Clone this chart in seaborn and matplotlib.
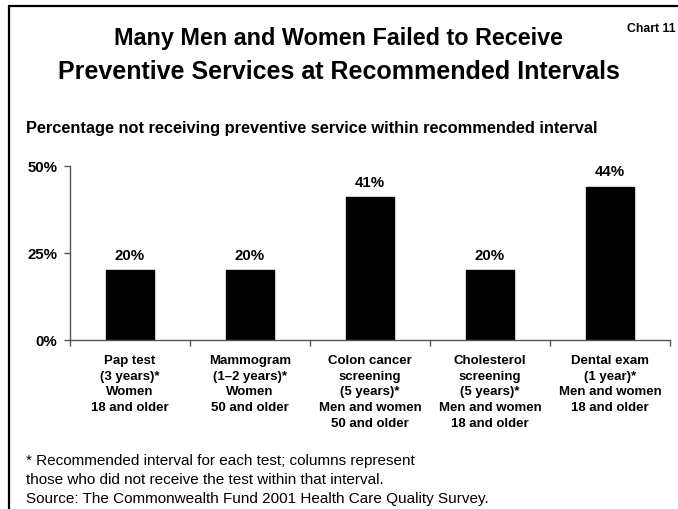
import matplotlib
matplotlib.use("Agg")
import matplotlib.pyplot as plt
from matplotlib import font_manager
from matplotlib.lines import Line2D
import seaborn as sns
import pandas as pd

# Data
categories = ["Pap test", "Mammogram", "Colon cancer screening",
              "Cholesterol screening", "Dental exam"]
pct_not_received = [20, 20, 41, 20, 44]
category_labels = [
    "Pap test\n(3 years)*\nWomen\n18 and older",
    "Mammogram\n(1\u20132 years)*\nWomen\n50 and older",
    "Colon cancer\nscreening\n(5 years)*\nMen and women\n50 and older",
    "Cholesterol\nscreening\n(5 years)*\nMen and women\n18 and older",
    "Dental exam\n(1 year)*\nMen and women\n18 and older",
]
y_ticks = [0, 25, 50]
y_tick_labels = ["0%", "25%", "50%"]

sns.set_theme(style="white")

available = {f.name for f in font_manager.fontManager.ttflist}
base = "Liberation Sans" if "Liberation Sans" in available else "DejaVu Sans"
plt.rcParams["font.family"] = [base, "DejaVu Sans"]
plt.rcParams["text.color"] = "black"

df = pd.DataFrame({"category": categories, "value": pct_not_received})

W, H = 678, 510
fig = plt.figure(figsize=(W / 100, H / 100), dpi=100)
ax = fig.add_axes([70 / W, 1 - 341 / H, (670 - 70) / W, (341 - 167) / H])

sns.barplot(data=df, x="category", y="value", color="black", width=0.4,
            saturation=1, ax=ax, edgecolor="black")

ax.set_xlim(-0.5, len(categories) - 0.5)
ax.set_ylim(0, 50)
ax.set_xlabel("")
ax.set_ylabel("")

# y axis
ax.set_yticks(y_ticks)
ax.set_yticklabels(y_tick_labels, fontsize=10.8, fontweight="bold", color="black")
ax.tick_params(axis="y", direction="out", length=4, width=1, color="#555555", pad=5, left=True)

# x axis: ticks at category boundaries, labels at centers
ax.set_xticks([i - 0.5 for i in range(len(categories) + 1)])
ax.set_xticklabels([])
ax.tick_params(axis="x", direction="out", length=4, width=1, color="#555555", bottom=True)
for i, lab in enumerate(category_labels):
    ax.text(i, -0.08, lab, transform=ax.get_xaxis_transform(), ha="center", va="top",
            fontsize=9.5, fontweight="bold", linespacing=1.42)

for side in ("top", "right"):
    ax.spines[side].set_visible(False)
for side in ("left", "bottom"):
    ax.spines[side].set_color("#555555")
    ax.spines[side].set_linewidth(1)

# value labels
for i, v in enumerate(pct_not_received):
    ax.annotate(f"{v}%", (i, v), xytext=(0, 11.2), textcoords="offset points",
                ha="center", va="center", fontsize=10.8, fontweight="bold")

# titles
fig.text(0.5, 1 - 38 / H, "Many Men and Women Failed to Receive", ha="center", va="center",
         fontsize=16.8, fontweight="bold")
fig.text(0.5, 1 - 72 / H, "Preventive Services at Recommended Intervals", ha="center",
         va="center", fontsize=18, fontweight="bold")
fig.text(676 / W, 1 - 29 / H, "Chart 11", ha="right", va="center", fontsize=8.8,
         fontweight="bold")
fig.text(26 / W, 1 - 129 / H,
         "Percentage not receiving preventive service within recommended interval",
         ha="left", va="center", fontsize=11.8, fontweight="bold")

# footnotes
fig.text(26 / W, 1 - 461 / H, "* Recommended interval for each test; columns represent",
         ha="left", va="center", fontsize=11)
fig.text(26 / W, 1 - 480 / H, "those who did not receive the test within that interval.",
         ha="left", va="center", fontsize=11)
fig.text(26 / W, 1 - 499 / H, "Source: The Commonwealth Fund 2001 Health Care Quality Survey.",
         ha="left", va="center", fontsize=11)

# page frame (left and top rules)
fig.add_artist(Line2D([9 / W, 9 / W], [0, 1 - 7 / H], color="black", lw=1.6,
                      transform=fig.transFigure))
fig.add_artist(Line2D([9 / W, 1], [1 - 7 / H, 1 - 7 / H], color="black", lw=1.6,
                      transform=fig.transFigure))

fig.savefig("out.png", dpi=100)
